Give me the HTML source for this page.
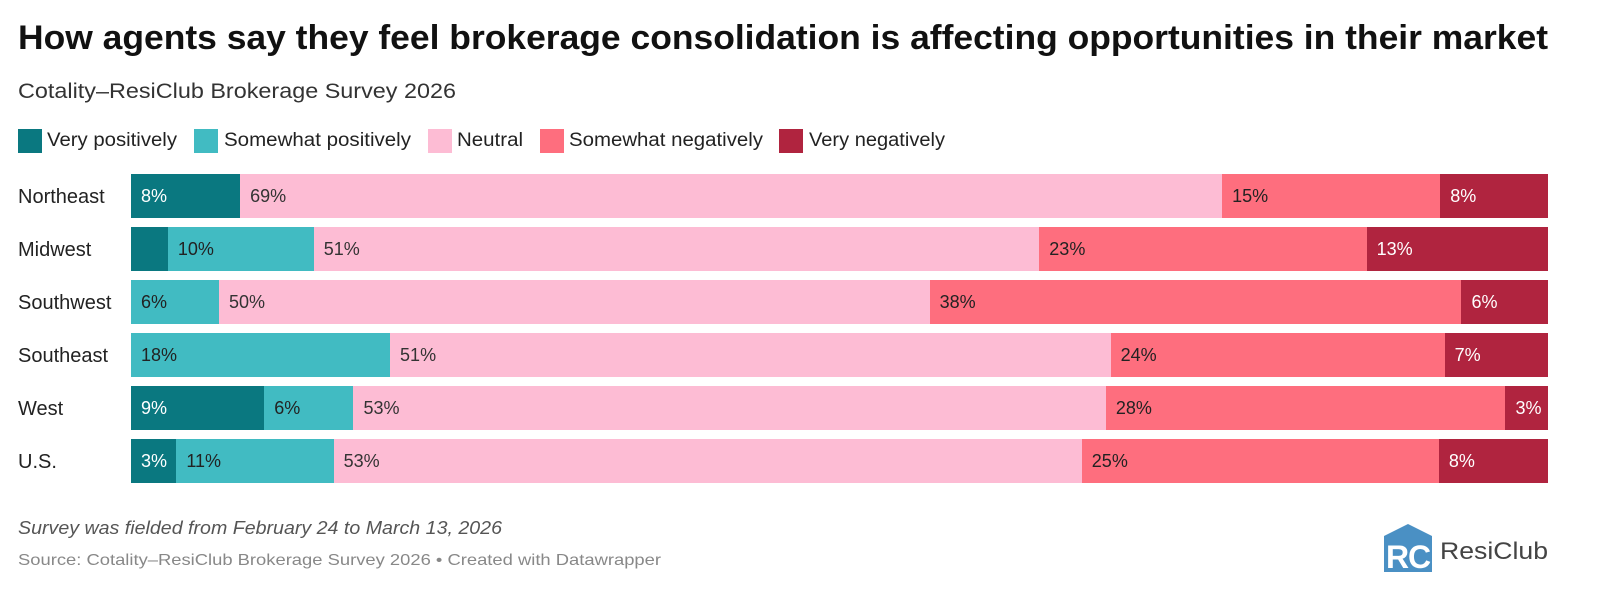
<!DOCTYPE html>
<html><head><meta charset="utf-8"><style>
body{margin:0;width:1600px;height:602px;background:#fff;font-family:"Liberation Sans",sans-serif;position:relative;overflow:hidden;color:#222}
.a{position:absolute;white-space:nowrap}
.sq{position:absolute;width:24px;height:24px;top:129px}
.lg{position:absolute;top:129px;font-size:19px;line-height:24px;color:#222}
</style></head><body>
<div class="a fit" data-w="1530" style="left:18px;top:19px;font-size:34px;font-weight:bold;color:#111">How agents say they feel brokerage consolidation is affecting opportunities in their market</div>
<div class="a fit" data-w="438" style="left:18px;top:80px;font-size:21px;color:#333">Cotality–ResiClub Brokerage Survey 2026</div>
<div>
<div class="sq" style="left:18px;background:#0a7880"></div><div class="lg fit" data-w="130" style="left:47px">Very positively</div>
<div class="sq" style="left:194px;background:#41bbc2"></div><div class="lg fit" data-w="187" style="left:224px">Somewhat positively</div>
<div class="sq" style="left:428px;background:#fdbcd4"></div><div class="lg fit" data-w="66" style="left:457px">Neutral</div>
<div class="sq" style="left:540px;background:#fe6e7e"></div><div class="lg fit" data-w="194" style="left:569px">Somewhat negatively</div>
<div class="sq" style="left:779px;background:#b0243f"></div><div class="lg fit" data-w="136" style="left:809px">Very negatively</div>
</div>
<div id="chart"></div>
<div class="a fit" data-w="484" style="left:18px;top:518px;font-size:18px;font-style:italic;color:#555">Survey was fielded from February 24 to March 13, 2026</div>
<div class="a fit" data-w="643" style="left:18px;top:552px;font-size:16px;color:#888">Source: Cotality–ResiClub Brokerage Survey 2026 • Created with Datawrapper</div>
<div class="a" style="left:1384px;top:522px;width:170px;height:50px">
<svg width="50" height="50" style="position:absolute;left:0;top:0"><polygon points="0,14 24,2 48,14 48,50 0,50" fill="#4a90c4"/><text x="2" y="46" font-size="32" font-weight="bold" fill="#fff" font-family="Liberation Sans">R</text><text x="24" y="46" font-size="32" font-weight="bold" fill="#fff" font-family="Liberation Sans">C</text></svg>
<div class="a fit" data-w="108" style="left:56px;top:16px;font-size:24px;color:#444">ResiClub</div>
</div>
<script>
const regions=["Northeast","Midwest","Southwest","Southeast","West","U.S."];
const veryPositive=[7.7,2.6,0,0,9.4,3.2];
const somewhatPositive=[0,10.3,6.2,18.3,6.3,11.1];
const neutral=[69.3,51.2,50.1,50.9,53.1,52.8];
const somewhatNegative=[15.4,23.1,37.5,23.6,28.2,25.2];
const veryNegative=[7.6,12.8,6.1,7.3,3.0,7.7];
const seriesNames=["very-positive","somewhat-positive","neutral","somewhat-negative","very-negative"];
const colors=["#0a7880","#41bbc2","#fdbcd4","#fe6e7e","#b0243f"];
const textCol=["#fff","#222","#333","#222","#fff"];
const X0=131,W=1417,Y0=174,ROW=53,H=44;
const xs=v=>v/100*W;
const chart=document.getElementById('chart');
const series=[veryPositive,somewhatPositive,neutral,somewhatNegative,veryNegative];
regions.forEach((r,i)=>{
  const y=Y0+i*ROW;
  const lab=document.createElement('div');
  lab.className='a';
  
  
  lab.style.cssText=`left:18px;top:${y+1}px;height:${H}px;line-height:${H}px;font-size:20px;color:#222`;
  lab.textContent=r;chart.appendChild(lab);
  let total=series.reduce((s,a)=>s+a[i],0);
  let acc=0;
  series.forEach((arr,k)=>{
    const v=arr[i]/total*100;if(v<=0)return;
    const b=document.createElement('div');
    b.className='a';
    
    
    b.style.cssText=`left:${X0+xs(acc)}px;top:${y}px;width:${xs(v)}px;height:${H}px;background:${colors[k]};line-height:${H}px;font-size:18px;color:${textCol[k]};box-sizing:border-box;padding-left:10px;overflow:hidden`;
    if(xs(v)>40)b.textContent=Math.round(arr[i])+'%';
    chart.appendChild(b);acc+=v;
  });
});
document.querySelectorAll('.fit').forEach(el=>{
  const w=el.getBoundingClientRect().width,t=+el.dataset.w;
  if(w>0){el.style.transformOrigin='0 50%';el.style.transform='scaleX('+(t/w)+')';}
});
</script>
</body></html>
